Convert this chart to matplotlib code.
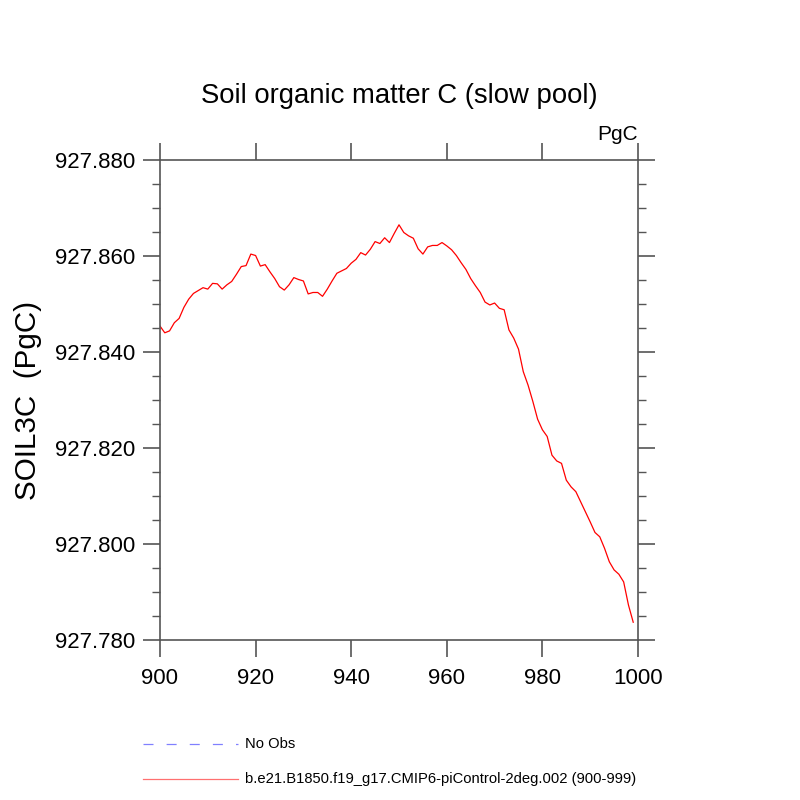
import matplotlib
matplotlib.use("Agg")
import matplotlib.pyplot as plt
from matplotlib.lines import Line2D
from matplotlib.ticker import MultipleLocator, FormatStrFormatter
import numpy as np

plt.rcParams['font.family'] = ['Liberation Sans', 'DejaVu Sans']

# years 900..999
years = np.arange(900, 1000)
soil3c = [
    927.8454, 927.8440, 927.8444, 927.8461, 927.8470, 927.8493, 927.8510, 927.8522, 927.8528, 927.8534,
    927.8531, 927.8543, 927.8542, 927.8531, 927.8540, 927.8547, 927.8562, 927.8578, 927.8580, 927.8604,
    927.8601, 927.8579, 927.8582, 927.8567, 927.8553, 927.8536, 927.8529, 927.8540, 927.8555, 927.8551,
    927.8548, 927.8521, 927.8524, 927.8524, 927.8516, 927.8531, 927.8548, 927.8564, 927.8569, 927.8574,
    927.8585, 927.8593, 927.8607, 927.8602, 927.8614, 927.8630, 927.8626, 927.8638, 927.8628, 927.8647,
    927.8665, 927.8649, 927.8642, 927.8637, 927.8615, 927.8604, 927.8619, 927.8622, 927.8622, 927.8628,
    927.8621, 927.8613, 927.8601, 927.8586, 927.8572, 927.8553, 927.8538, 927.8524, 927.8504, 927.8498,
    927.8502, 927.8491, 927.8488, 927.8446, 927.8429, 927.8406, 927.8359, 927.8331, 927.8297, 927.8260,
    927.8238, 927.8224, 927.8185, 927.8173, 927.8168, 927.8133, 927.8119, 927.8109, 927.8088, 927.8067,
    927.8046, 927.8024, 927.8015, 927.7991, 927.7963, 927.7946, 927.7937, 927.7921, 927.7873, 927.7837,
]

title = "Soil organic matter C (slow pool)"
ylabel = "SOIL3C  (PgC)"
units = "PgC"
legend_labels = ["No Obs", "b.e21.B1850.f19_g17.CMIP6-piControl-2deg.002 (900-999)"]

axcol = '#555555'

fig = plt.figure(figsize=(8, 8), dpi=100)
ax = fig.add_axes([0.2, 0.2, 0.5975, 0.6])
ax.plot(years, soil3c, color='red', lw=0.9)

ax.set_xlim(900, 1000)
ax.set_ylim(927.78, 927.88)
ax.xaxis.set_major_locator(MultipleLocator(20))
ax.yaxis.set_major_locator(MultipleLocator(0.02))
ax.yaxis.set_minor_locator(MultipleLocator(0.005))
ax.yaxis.set_major_formatter(FormatStrFormatter('%.3f'))

for s in ax.spines.values():
    s.set_color(axcol)
    s.set_linewidth(1.2)
ax.tick_params(which='major', direction='out', length=12, width=1.2, color=axcol,
               labelsize=16, top=True, right=True, pad=6)
ax.tick_params(which='minor', direction='out', length=6, width=1.0, color=axcol,
               top=False, right=True)
ax.tick_params(axis='x', pad=8)

ax.set_title(title, fontsize=19.8, pad=41)
ax.set_ylabel(ylabel, fontsize=21.3, labelpad=9)
ax.text(1.0, 1.033, units, transform=ax.transAxes, ha='right', va='bottom', fontsize=15)

# legend below the plot
fig.add_artist(Line2D([0.179, 0.297], [0.07, 0.07], color='#8080ff', lw=0.9,
                      dashes=(8, 10.5), transform=fig.transFigure))
fig.text(0.306, 0.07, legend_labels[0], fontsize=10.6, va='center')
fig.add_artist(Line2D([0.179, 0.297], [0.026, 0.026], color='#ff7070', lw=0.9,
                      transform=fig.transFigure))
fig.text(0.306, 0.026, legend_labels[1], fontsize=10.6, va='center')

fig.savefig('out.png', dpi=100)
